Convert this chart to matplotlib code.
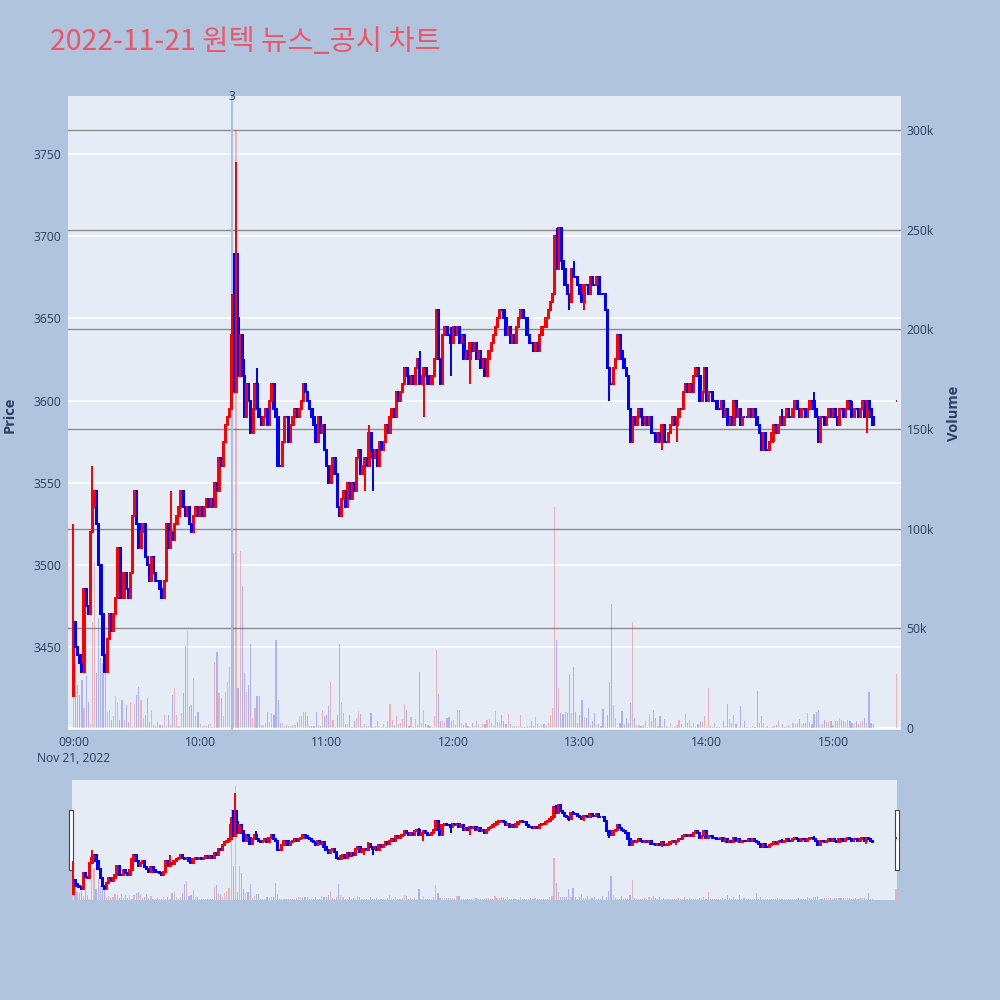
import matplotlib
matplotlib.use('Agg')
import matplotlib.pyplot as plt
from matplotlib.patches import Rectangle

plt.rcParams['font.family'] = ['Open Sans', 'Noto Sans CJK KR', 'DejaVu Sans']

# ---------------- data ----------------
title = "2022-11-21 원텍 뉴스_공시 차트"
date_label = "Nov 21, 2022"
hour_labels = ["09:00", "10:00", "11:00", "12:00", "13:00", "14:00", "15:00"]
hour_ticks = [0, 60, 120, 180, 240, 300, 360]          # minutes after 09:00

price_ticks = [3450, 3500, 3550, 3600, 3650, 3700, 3750]
volume_ticks = [0, 50000, 100000, 150000, 200000, 250000, 300000]
volume_tick_labels = ["0", "50k", "100k", "150k", "200k", "250k", "300k"]

first_open = 3420
# 1-minute closes from 09:00 to 15:19
closes = [
    3465, 3450, 3445, 3440, 3435, 3485, 3475, 3470, 3520, 3535,
    3545, 3525, 3500, 3470, 3445, 3435, 3455, 3470, 3460, 3470,
    3480, 3510, 3480, 3480, 3495, 3485, 3480, 3495, 3530, 3545,
    3525, 3510, 3520, 3525, 3505, 3500, 3490, 3505, 3495, 3490,
    3490, 3485, 3480, 3490, 3525, 3510, 3520, 3515, 3525, 3530,
    3535, 3545, 3535, 3530, 3535, 3525, 3520, 3530, 3535, 3530,
    3535, 3530, 3535, 3540, 3535, 3540, 3535, 3550, 3545, 3565,
    3560, 3575, 3585, 3590, 3595, 3640, 3605, 3650, 3615, 3640,
    3615, 3590, 3610, 3600, 3580, 3595, 3610, 3595, 3590, 3585,
    3590, 3595, 3585, 3600, 3610, 3595, 3590, 3560, 3560, 3575,
    3590, 3590, 3575, 3585, 3590, 3595, 3590, 3595, 3600, 3610,
    3605, 3600, 3595, 3590, 3585, 3575, 3590, 3580, 3585, 3570,
    3560, 3550, 3560, 3565, 3555, 3535, 3530, 3540, 3545, 3535,
    3550, 3540, 3550, 3545, 3565, 3570, 3555, 3560, 3565, 3560,
    3580, 3570, 3565, 3570, 3560, 3575, 3570, 3575, 3585, 3580,
    3590, 3595, 3590, 3605, 3600, 3605, 3610, 3620, 3615, 3610,
    3615, 3610, 3620, 3625, 3610, 3615, 3620, 3615, 3610, 3610,
    3615, 3625, 3655, 3625, 3610, 3640, 3645, 3640, 3640, 3635,
    3645, 3640, 3645, 3635, 3640, 3625, 3630, 3625, 3635, 3630,
    3635, 3625, 3630, 3620, 3625, 3615, 3625, 3630, 3635, 3640,
    3645, 3650, 3655, 3655, 3650, 3640, 3645, 3635, 3640, 3635,
    3645, 3650, 3655, 3650, 3650, 3640, 3635, 3635, 3630, 3635,
    3630, 3640, 3645, 3645, 3650, 3655, 3660, 3665, 3700, 3680,
    3705, 3685, 3680, 3670, 3665, 3660, 3680, 3675, 3675, 3670,
    3665, 3660, 3670, 3670, 3665, 3675, 3670, 3670, 3675, 3665,
    3665, 3665, 3655, 3620, 3610, 3610, 3620, 3625, 3640, 3630,
    3625, 3620, 3615, 3595, 3575, 3590, 3585, 3590, 3595, 3590,
    3585, 3590, 3585, 3590, 3580, 3580, 3575, 3580, 3575, 3585,
    3575, 3575, 3580, 3585, 3590, 3585, 3590, 3595, 3595, 3605,
    3610, 3605, 3610, 3605, 3615, 3620, 3615, 3600, 3605, 3620,
    3600, 3605, 3605, 3600, 3600, 3595, 3595, 3600, 3590, 3595,
    3585, 3590, 3585, 3600, 3590, 3595, 3585, 3590, 3590, 3590,
    3595, 3590, 3595, 3590, 3585, 3580, 3570, 3580, 3570, 3570,
    3575, 3580, 3585, 3580, 3585, 3590, 3585, 3590, 3595, 3590,
    3590, 3595, 3600, 3595, 3590, 3595, 3595, 3590, 3595, 3600,
    3600, 3595, 3590, 3575, 3590, 3590, 3585, 3590, 3595, 3590,
    3595, 3590, 3585, 3595, 3595, 3590, 3595, 3600, 3595, 3590,
    3595, 3595, 3590, 3595, 3600, 3590, 3600, 3595, 3590, 3585,
]
wick_high = {0: 3525, 9: 3560, 46: 3545, 75: 3665, 76: 3690, 77: 3745, 78: 3690,
             81: 3625, 87: 3620, 140: 3585, 164: 3630, 173: 3655, 179: 3645,
             229: 3705, 237: 3685, 336: 3595, 351: 3605, 369: 3600, 375: 3600}
wick_low = {138: 3545, 142: 3545, 166: 3590, 179: 3615, 188: 3610, 235: 3655,
            242: 3655, 254: 3600, 279: 3570, 286: 3575, 332: 3575, 376: 3580}

auction_minute = 390          # 15:30 closing auction
auction_price = 3600

# volume per minute (thousand shares)
volumes_k = [
    93, 33, 21.5, 16.6, 24, 9.8, 26, 13, 2, 53,
    83, 27.5, 55, 35, 32.5, 27.5, 8, 9, 4, 5.8,
    16, 13, 4, 14, 4, 11.5, 3, 13, 1, 12,
    16.6, 20.6, 14, 5, 6.7, 15, 3, 9, 1.7, 1,
    3, 1.7, 1.7, 6.7, 1.7, 6.7, 1.7, 16.6, 20, 6.7,
    1, 7.5, 17.5, 41, 48.5, 10.8, 11.5, 25, 5.8, 8,
    2, 1, 1.7, 1, 2, 2, 0.5, 33, 38, 17.5,
    15, 5.8, 18, 23, 30.7, 239, 88, 300, 20, 89,
    71, 27.5, 18, 21.5, 42, 5, 10, 16, 16, 1.7,
    1.7, 2.5, 8, 3, 7.5, 6.7, 44, 14, 2.5, 2.5,
    1, 1.7, 1, 1, 1.7, 1.7, 3, 5.8, 5.8, 8,
    8, 5.8, 1, 1, 1, 8, 1.7, 1, 9, 5.8,
    6.5, 11, 23, 4, 0.7, 6.5, 42, 13, 7.5, 2,
    2, 6.5, 0.7, 3.5, 5, 8.5, 7, 1, 2, 1,
    1, 7.5, 0.7, 1, 3.5, 1, 0.7, 2, 0.7, 3.5,
    12, 4, 1.5, 6, 2, 2.5, 4.5, 12, 9, 1,
    5.5, 0.7, 4.5, 2, 28, 2.5, 9, 2, 1.7, 1,
    0.7, 6, 39, 17, 3.5, 3.5, 3, 5, 5.5, 3.5,
    4, 1.5, 9, 9, 2.5, 1.7, 2.5, 1, 0.7, 2.5,
    1, 3.5, 2, 0.7, 2, 2, 4, 4.5, 2.5, 1.7,
    8.5, 3, 3, 6.5, 3.5, 2, 7, 2, 1, 1,
    1, 1, 6.5, 0.7, 0.7, 1, 1, 3.5, 1, 5.5,
    2.2, 1, 1.7, 2, 1.7, 2.5, 6.5, 10, 111, 44,
    20, 7.5, 7, 8, 7.5, 27, 7.5, 30.5, 8, 2.5,
    6.5, 14, 5.5, 5, 10, 1.7, 3.5, 7.5, 1.7, 2,
    1.2, 9.5, 0.3, 6.5, 23, 62, 11.5, 5, 0.7, 2.5,
    8.5, 1.5, 5.2, 2.7, 12.5, 53, 5, 1.5, 1.5, 1,
    1.5, 3.3, 0.7, 7, 3.7, 9, 5.2, 1.2, 6, 1.2,
    4.3, 1.2, 0.7, 2.7, 0.7, 1, 1.3, 4, 1.8, 0.7,
    7, 2.7, 4, 1, 2.5, 1, 2, 3.3, 3, 6,
    0.7, 20, 1, 0.7, 2.5, 0.7, 0.7, 0.7, 3.3, 0.8,
    12, 4.3, 2.5, 6.5, 2.2, 0.7, 11, 0.7, 3.3, 0.7,
    0.7, 0.7, 1, 0.7, 18.5, 2.5, 6, 2.5, 0.7, 1,
    0.7, 0.7, 1, 1.5, 3.5, 0.7, 2, 0.7, 0.8, 1.5,
    0.7, 2.7, 1.8, 2.7, 4.5, 1.7, 2.5, 2.7, 7.5, 3,
    2, 7, 8, 9, 1.7, 1.8, 4, 3, 3.2, 3.5,
    1.5, 3.5, 3.5, 5, 4, 3.7, 3, 4, 3.7, 2.5,
    2.5, 3.5, 2, 3, 3.5, 5, 2.5, 18, 2.5, 2,
]
auction_volume_k = 27

news_minute = 75              # 10:15
news_count = "3"

# ---------------- derived series ----------------
minutes = list(range(len(closes))) + [auction_minute]
c_all = closes + [auction_price]
o_all = [first_open] + closes[:-1] + [auction_price]
prev_c = [first_open] + c_all[:-1]
highs, lows, inc = [], [], []
for i, (o, c) in enumerate(zip(o_all, c_all)):
    highs.append(wick_high.get(i, max(o, c)))
    lows.append(wick_low.get(i, min(o, c)))
    inc.append(c > o or (c == o and c > prev_c[i]))
vols = [v * 1000 for v in volumes_k] + [auction_volume_k * 1000]

RED, BLUE = '#ff0000', '#0000ff'
cand_col = [RED if u else BLUE for u in inc]
vol_col = [(1, 0, 0, 0.25) if u else (0, 0, 1, 0.25) for u in inc]

BG = '#b0c4de'
PLOT_BG = '#e5ecf6'
TXT = '#2a3f5f'
P_LIM = (3399.5, 3785.3)
V_LIM = (-1000, 317100)
LW = 1.44  # 2 px

fig = plt.figure(figsize=(10, 10), dpi=100, facecolor=BG)


def draw(rect, xlim, show_axes):
    axg = fig.add_axes(rect, zorder=0)
    axg.set_facecolor(PLOT_BG)
    axg.set_xlim(*xlim)
    axg.set_ylim(*P_LIM)
    axg.set_xticks([])
    axg.set_yticks([])
    for s in axg.spines.values():
        s.set_visible(False)

    axv = fig.add_axes(rect, zorder=1)
    axv.patch.set_visible(False)
    axv.set_xlim(*xlim)
    axv.set_ylim(*V_LIM)
    axv.bar(minutes, vols, width=0.55, color=vol_col, linewidth=0)
    for s in axv.spines.values():
        s.set_visible(False)

    axp = fig.add_axes(rect, zorder=2)
    axp.patch.set_visible(False)
    axp.set_xlim(*xlim)
    axp.set_ylim(*P_LIM)
    axp.vlines(minutes, lows, highs, colors=cand_col, linewidth=LW)
    axp.bar(minutes, [c - o for o, c in zip(o_all, c_all)], bottom=o_all,
            width=0.65, color=cand_col, edgecolor=cand_col, linewidth=LW)
    for s in axp.spines.values():
        s.set_visible(False)

    if show_axes:
        for p in price_ticks:
            axg.axhline(p, color='white', linewidth=1.1, zorder=0)
        for v in volume_ticks[1:]:
            axv.axhline(v, color='#8c8c8c', linewidth=1.0, zorder=0)
        axv.axhline(0, color='white', linewidth=1.6, zorder=0)
        axv.yaxis.tick_right()
        axv.set_yticks(volume_ticks)
        axv.set_yticklabels(volume_tick_labels)
        axv.tick_params(axis='y', length=0, pad=4, labelsize=8.7, labelcolor=TXT)
        axv.set_xticks([])
        axp.set_yticks(price_ticks)
        axp.tick_params(axis='y', length=0, pad=4.5, labelsize=8.7, labelcolor=TXT)
        axp.set_xticks(hour_ticks)
        labels = list(hour_labels)
        labels[0] = hour_labels[0] + "\n" + date_label
        axp.set_xticklabels(labels)
        axp.tick_params(axis='x', length=0, pad=4.5, labelsize=8.7, labelcolor=TXT)
        for lbl in axp.get_xticklabels():
            lbl.set_linespacing(1.3)
        # news marker
        axp.axvline(news_minute, color='#a8b8ee', linewidth=1.3, zorder=0.5)
        axp.text(news_minute, P_LIM[1], news_count, ha='center', va='center',
                 fontsize=8.7, color=TXT, clip_on=False)
    else:
        for a in (axv, axp):
            a.set_xticks([])
            a.set_yticks([])
    return axp


draw([0.068, 0.270, 0.833, 0.634], (-2.6, 392.2), True)
draw([0.072, 0.100, 0.825, 0.120], (-0.4, 390.5), False)

# range slider handles
for hx in (0.069, 0.895):
    fig.patches.append(Rectangle((hx, 0.130), 0.004, 0.060, transform=fig.transFigure,
                                 facecolor='white', edgecolor='#444444', linewidth=0.8))

fig.text(0.05, 0.958, title, fontsize=20.5, color='#ef5566', ha='left', va='center',
         family=['Noto Sans CJK KR', 'DejaVu Sans'])
fig.text(0.010, 0.585, 'Price', rotation=90, ha='center', va='center',
         fontsize=10.5, fontweight='bold', color=TXT)
fig.text(0.954, 0.587, 'Volume', rotation=90, ha='center', va='center',
         fontsize=10.5, fontweight='bold', color=TXT)

fig.savefig('out.png', dpi=100, facecolor=BG)
